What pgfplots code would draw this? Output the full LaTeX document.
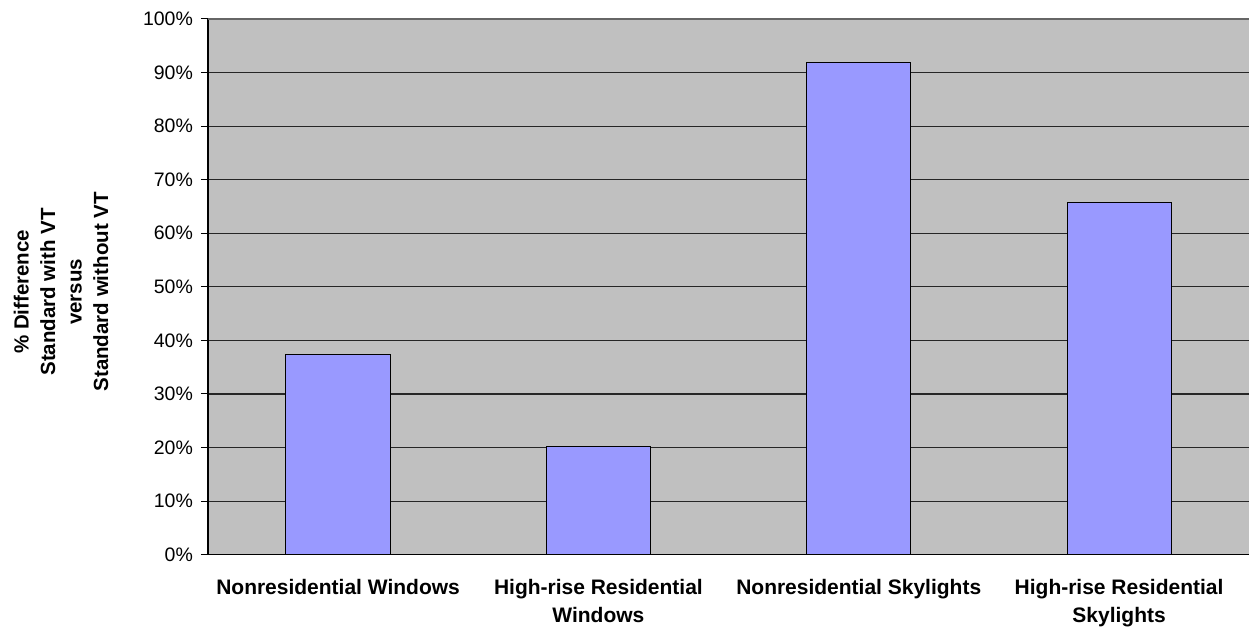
\documentclass[border=0pt]{standalone}
\usepackage{fontspec}
\setmainfont{Liberation Sans}
\usepackage{pgfplots}
\pgfplotsset{compat=1.18}
\definecolor{bgc}{RGB}{192,192,192}
\definecolor{barc}{RGB}{153,153,255}
\begin{document}
\begin{tikzpicture}
\begin{axis}[
  scale only axis,
  width=1042pt, height=536pt,
  xmin=-0.5, xmax=3.5,
  ymin=0, ymax=100,
  axis background/.style={fill=bgc},
  axis x line*=bottom, axis y line*=left,
  axis line style={black, line width=1.5pt},
  ytick={0,10,...,90},
  extra y ticks={100},
  extra y tick style={grid style={gray!80!black, line width=1.4pt}},
  yticklabel={\pgfmathprintnumber{\tick}\%},
  /pgf/number format/assume math mode=true,
  ymajorgrids,
  grid style={black!85, line width=1.2pt},
  tick align=outside,
  major tick length=7pt,
  tick style={black, line width=1pt},
  yticklabel style={font=\fontsize{19.5}{23}\selectfont, xshift=-4.5pt},
  xtick={0,1,2,3},
  xticklabels={{Nonresidential Windows},{High-rise Residential\\Windows},{Nonresidential Skylights},{High-rise Residential\\Skylights}},
  xticklabel style={font=\fontsize{21}{28}\selectfont\bfseries, align=center, yshift=-14pt},
  x tick style={draw=none},
  extra x ticks={-0.5,0.5,1.5,2.5},
  extra x tick labels={},
  extra x tick style={grid=none, tick style={draw=black, line width=1pt}},
  clip=false,
]
\addplot[ybar, bar width=0.4, fill=barc, draw=black, line width=1pt] coordinates {
  (0,37.3) (1,20.2) (2,91.8) (3,65.8)
};
\coordinate (bl) at (rel axis cs:0,0);
\coordinate (tr) at (rel axis cs:1,1);
\node[rotate=90, align=center, font=\fontsize{20.5}{26.5}\selectfont\bfseries]
  at ([xshift=-147pt, yshift=-5pt]rel axis cs:0,0.5) {\% Difference\\Standard with VT\\versus\\Standard without VT};
\end{axis}
\path[use as bounding box] ([xshift=-208pt, yshift=-70pt]bl) rectangle ([yshift=19pt]tr);
\end{tikzpicture}
\end{document}
